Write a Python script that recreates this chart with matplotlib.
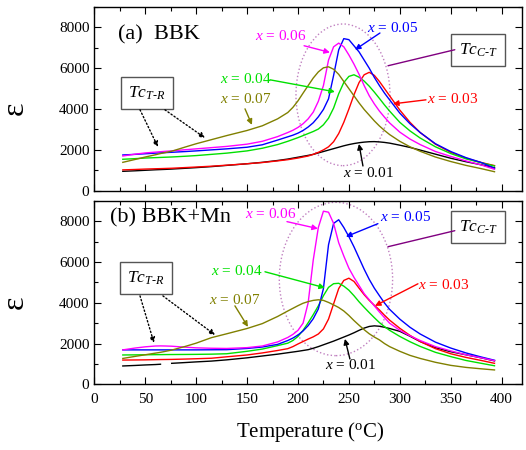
import numpy as np
import matplotlib
matplotlib.use("Agg")
import matplotlib.pyplot as plt
from matplotlib.patches import Ellipse
from matplotlib.ticker import MultipleLocator

plt.rcParams['font.family'] = ['Liberation Serif', 'DejaVu Serif']
plt.rcParams['mathtext.fontset'] = 'custom'
plt.rcParams['mathtext.rm'] = 'Liberation Serif'
plt.rcParams['mathtext.it'] = 'Liberation Serif:italic'
plt.rcParams['mathtext.bf'] = 'Liberation Serif:bold'

nan = np.nan
# ---------------- data ----------------
T = [28, 40, 50, 60, 65, 70, 76, 90, 100, 115, 130, 150, 165, 180, 190, 195, 200, 205, 210, 215,
     220, 225, 230, 235, 240, 245, 250, 255, 260, 265, 270, 275, 280, 285, 290, 300, 310, 320,
     335, 350, 365, 380, 393]

colors = ["#000000", "#ff0000", "#00e000", "#0000ff", "#ff00ff", "#808000"]

# (a) BBK
a_x001 = [950, 975, 1000, 1025, 1035, 1045, 1060, 1100, 1130, 1180, 1240, 1320, 1390, 1480, 1550, 1595,
          1640, 1685, 1730, 1780, 1850, 1920, 1990, 2060, 2130, 2200, 2260, 2310, 2350, 2380, 2400, 2405,
          2390, 2365, 2330, 2230, 2120, 1990, 1790, 1590, 1420, 1270, 1120]
a_x003 = [1020, 1040, 1060, 1075, 1082, 1090, 1100, 1135, 1160, 1200, 1250, 1320, 1380, 1460, 1520, 1560,
          1600, 1650, 1700, 1780, 1880, 2000, 2150, 2400, 2800, 3350, 4000, 4700, 5300, 5680, 5800, 5650,
          5350, 5000, 4650, 3950, 3350, 2850, 2280, 1880, 1590, 1380, 1230]
a_x004 = [1540, 1570, 1600, 1620, 1630, 1640, 1652, 1690, 1720, 1780, 1840, 1950, 2080, 2260, 2420, 2510,
          2600, 2700, 2800, 2900, 3020, 3230, 3550, 4050, 4750, 5300, 5600, 5680, 5560, 5370, 5120, 4830,
          4520, 4200, 3900, 3350, 2930, 2580, 2150, 1820, 1560, 1370, 1210]
a_x005 = [1750, 1780, 1810, 1840, 1855, 1868, 1882, 1920, 1950, 2000, 2050, 2130, 2250, 2480, 2640, 2720,
          2820, 2950, 3120, 3330, 3620, 3980, 4500, 5650, 6900, 7450, 7400, 7100, 6800, 6400, 6000, 5550,
          5150, 4780, 4450, 3800, 3280, 2850, 2300, 1920, 1620, 1380, 1100]
a_x006 = [1700, 1790, 1850, 1890, 1910, 1930, 1952, 2010, 2050, 2110, 2170, 2280, 2420, 2650, 2850, 2960,
          3100, 3280, 3520, 3850, 4380, 5150, 6400, 7050, 7230, 7050, 6650, 6200, 5700, 5150, 4650, 4250,
          3900, 3600, 3320, 2870, 2530, 2260, 1920, 1680, 1460, 1260, 1050]
a_x007 = [1390, 1530, 1650, 1760, 1820, 1870, 1935, 2150, 2300, 2500, 2700, 2950, 3180, 3520, 3830, 4080,
          4400, 4780, 5150, 5520, 5820, 6020, 6070, 5950, 5700, 5350, 5000, 4650, 4300, 3980, 3700, 3420,
          3170, 2950, 2750, 2420, 2150, 1930, 1650, 1430, 1240, 1080, 930]

# (b) BBK+Mn  (black curve has a short break near 70 C)
b_x001 = [900, 925, 950, 970, 985, nan, 1030, 1070, 1100, 1140, 1200, 1300, 1390, 1480, 1550, 1585,
          1620, 1660, 1700, 1770, 1850, 1940, 2030, 2120, 2220, 2320, 2420, 2530, 2650, 2760, 2840, 2870,
          2850, 2800, 2740, 2600, 2360, 2100, 1800, 1600, 1450, 1300, 1150]
b_x003 = [1190, 1195, 1200, 1210, 1215, 1218, 1222, 1240, 1255, 1280, 1350, 1440, 1540, 1660, 1750, 1850,
          1980, 2100, 2220, 2330, 2470, 2720, 3200, 3950, 4700, 5100, 5210, 5050, 4720, 4400, 4120, 3880,
          3650, 3390, 3150, 2750, 2400, 2100, 1750, 1500, 1320, 1170, 1030]
b_x004 = [1440, 1445, 1450, 1455, 1457, 1460, 1462, 1466, 1470, 1480, 1500, 1620, 1730, 1900, 2020, 2150,
          2350, 2650, 3020, 3420, 3850, 4350, 4760, 4940, 4960, 4820, 4620, 4350, 4050, 3780, 3520, 3270,
          3030, 2830, 2650, 2350, 2090, 1860, 1570, 1360, 1170, 1030, 910]
b_x005 = [1690, 1690, 1690, 1690, 1690, 1690, 1690, 1690, 1690, 1695, 1700, 1760, 1830, 1960, 2150, 2270,
          2420, 2620, 2880, 3220, 3700, 4700, 6850, 7900, 8080, 7700, 7250, 6750, 6200, 5650, 5150, 4720,
          4350, 3990, 3680, 3200, 2800, 2470, 2070, 1780, 1540, 1340, 1180]
b_x006 = [1690, 1780, 1840, 1880, 1885, 1880, 1870, 1820, 1790, 1770, 1760, 1800, 1880, 2080, 2300, 2450,
          2650, 3000, 4000, 6100, 7700, 8500, 8450, 7900, 6950, 6300, 5700, 5250, 4850, 4450, 4150, 3850,
          3550, 3270, 3000, 2650, 2380, 2150, 1850, 1640, 1450, 1300, 1160]
b_x007 = [1270, 1370, 1450, 1530, 1570, 1620, 1680, 1870, 2020, 2290, 2480, 2740, 2980, 3330, 3600, 3730,
          3860, 3980, 4060, 4120, 4150, 4120, 4020, 3900, 3770, 3600, 3380, 3130, 2900, 2680, 2480, 2320,
          2180, 2000, 1850, 1620, 1420, 1270, 1080, 930, 830, 760, 705]

series_a = [a_x001, a_x003, a_x004, a_x005, a_x006, a_x007]
series_b = [b_x001, b_x003, b_x004, b_x005, b_x006, b_x007]

# ---------------- figure ----------------
W, H = 526, 450
fig = plt.figure(figsize=(W / 100, H / 100), dpi=100)
axL, axW = 94.3 / W, 427.7 / W
ax1 = fig.add_axes([axL, 1 - 190.7 / H, axW, 183.7 / H])
ax2 = fig.add_axes([axL, 1 - 384.3 / H, axW, 183.3 / H])

for ax, ser in ((ax1, series_a), (ax2, series_b)):
    for y, c in zip(ser, colors):
        ax.plot(T, y, color=c, lw=1.0)
    ax.set_xlim(0, 420)
    ax.set_ylim(0, 9000)
    ax.xaxis.set_major_locator(MultipleLocator(50))
    ax.xaxis.set_minor_locator(MultipleLocator(25))
    ax.yaxis.set_major_locator(MultipleLocator(2000))
    ax.yaxis.set_minor_locator(MultipleLocator(1000))
    ax.tick_params(which='both', direction='in', top=True, right=True, labelsize=11, width=0.8)
    ax.tick_params(which='major', length=5)
    ax.tick_params(which='minor', length=3)
    ax.tick_params(axis='x', pad=6)
    ax.tick_params(axis='y', pad=3.5)
    for s in ax.spines.values():
        s.set_linewidth(1.0)
    ax.set_ylabel("ε", fontsize=23, rotation=90)
    ax.yaxis.set_label_coords(-0.15, 0.45)

ax1.tick_params(axis='x', labelbottom=False)
ax2.set_xlabel("Temperature ($^{\\rm o}$C)", fontsize=15)
ax2.xaxis.set_label_coords(0.504, -0.195)

def lab(ax, x, y, s, c, size=11):
    ax.text(x, y, s, color=c, fontsize=size, ha='left', va='center')

def arr(ax, tail, head, c, ls='-', style='-|>'):
    ax.annotate('', xy=head, xytext=tail,
                arrowprops=dict(arrowstyle=style, color=c, lw=1.0, ls=ls,
                                mutation_scale=8, shrinkA=0, shrinkB=0))

boxkw = dict(boxstyle='square,pad=0.42', fc='white', ec='#555555', lw=1.0)

# ---- panel (a) annotations ----
ax1.text(23.3, 7642, "(a)  BBK", fontsize=16, ha='left', va='center')
ax1.add_patch(Ellipse((244.2, 4697), 92.3, 6940, fill=False, ec='#c080c0', ls=':', lw=1.0))
lab(ax1, 157.8, 7558, "$x$ = 0.06", colors[4]); arr(ax1, (206, 7102), (231.4, 6773), colors[4])
lab(ax1, 267.5, 7971, "$x$ = 0.05", colors[3]); arr(ax1, (280.5, 7725), (256, 6906), colors[3])
lab(ax1, 123.4, 5468, "$x$ = 0.04", colors[2]); arr(ax1, (172.5, 5433), (236.3, 4844), colors[2])
lab(ax1, 123.4, 4486, "$x$ = 0.07", colors[5]); arr(ax1, (148, 4010), (154.8, 3225), colors[5])
lab(ax1, 326.4, 4486, "$x$ = 0.03", colors[1]); arr(ax1, (325.7, 4452), (293.3, 4255), colors[1])
lab(ax1, 244.2, 854, "$x$ = 0.01", colors[0]); arr(ax1, (263.8, 1212), (259.9, 2292), colors[0])
ax1.text(377, 6881, "$Tc_{C\\text{-}T}$", fontsize=12.5, ha='center', va='center', bbox=boxkw)
arr(ax1, (354, 6906), (288.4, 6121), '#800080', style='-')
ax1.text(51.7, 4795, "$Tc_{T\\text{-}R}$", fontsize=12.5, ha='center', va='center', bbox=boxkw)
arr(ax1, (44.9, 3961), (62.5, 2145), 'black', ls=':')
arr(ax1, (69.4, 3961), (108.7, 2587), 'black', ls=':')

# ---- panel (b) annotations ----
ax2.text(15.4, 8167, "(b) BBK+Mn", fontsize=16, ha='left', va='center')
ax2.add_patch(Ellipse((237.3, 5171), 111.3, 7528, fill=False, ec='#c080c0', ls=':', lw=1.0))
lab(ax2, 148, 8379, "$x$ = 0.06", colors[4]); arr(ax2, (189.2, 7987), (219.6, 7643), colors[4])
lab(ax2, 280.5, 8216, "$x$ = 0.05", colors[3]); arr(ax2, (278.5, 7887), (247.1, 7247), colors[3])
lab(ax2, 114.3, 5540, "$x$ = 0.04", colors[2]); arr(ax2, (167.6, 5525), (226.5, 4738), colors[2])
lab(ax2, 112.6, 4148, "$x$ = 0.07", colors[5]); arr(ax2, (138.1, 3852), (150.9, 2819), colors[5])
lab(ax2, 317.8, 4886, "$x$ = 0.03", colors[1]); arr(ax2, (317.8, 4935), (275.6, 3852), colors[1])
lab(ax2, 226.5, 950, "$x$ = 0.01", colors[0]); arr(ax2, (251, 1245), (246.1, 2229), colors[0])
ax2.text(377, 7715, "$Tc_{C\\text{-}T}$", fontsize=12.5, ha='center', va='center', bbox=boxkw)
arr(ax2, (354, 7542), (288.4, 6755), '#800080', style='-')
ax2.text(50.3, 5205, "$Tc_{T\\text{-}R}$", fontsize=12.5, ha='center', va='center', bbox=boxkw)
arr(ax2, (44.9, 4340), (58.6, 2032), 'black', ls=':')
arr(ax2, (67.4, 4340), (118.5, 2426), 'black', ls=':')

fig.savefig("out.png", dpi=100)
